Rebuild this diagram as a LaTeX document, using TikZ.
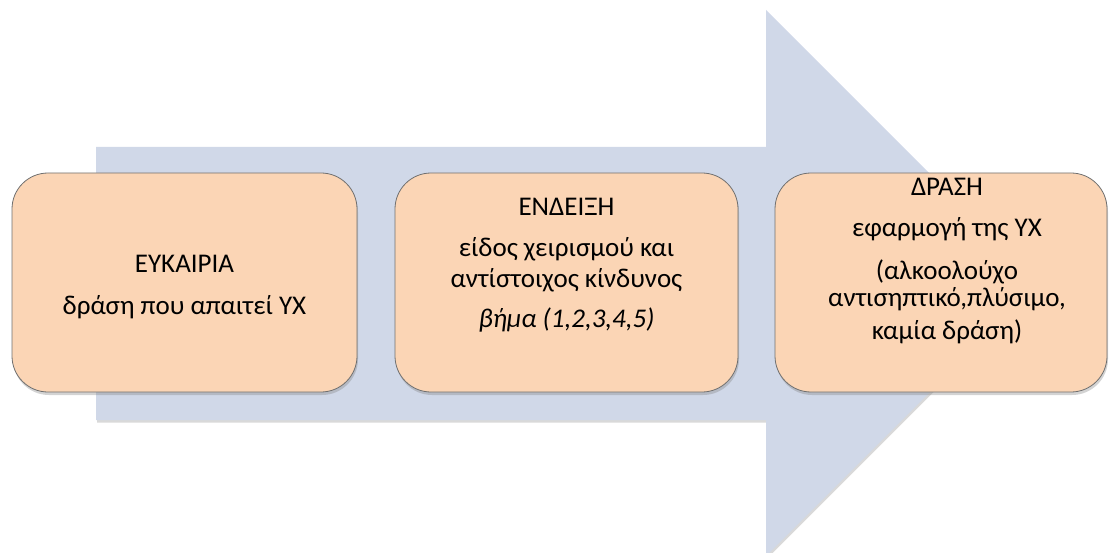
\documentclass[tikz,border=0pt]{standalone}
\usepackage{fontspec}
\setmainfont{Carlito}
\usetikzlibrary{shadows}
\definecolor{arrowfill}{HTML}{D0D8E8}
\definecolor{stagefill}{HTML}{FBD5B5}
\definecolor{stageline}{HTML}{707070}

\begin{document}
\begin{tikzpicture}[x=1pt,y=-1pt,
    stage/.style={draw=stageline,fill=stagefill,rounded corners=36pt,line width=0.8pt,
      minimum width=345pt,minimum height=219pt,inner sep=0pt,
      drop shadow={shadow xshift=1pt,shadow yshift=-3pt,opacity=0.35}},
    stagetext/.style={align=center,anchor=north,inner sep=0pt,
      font=\fontsize{27pt}{31.5pt}\selectfont}]
      \useasboundingbox (0,0) rectangle (1110,553);
      \fill[arrowfill,drop shadow={shadow xshift=1pt,shadow yshift=-2.5pt,opacity=0.3}]
        (96,147) -- (766,147) -- (766,10) -- (1039,283) -- (766,556) -- (766,420) -- (96,420) -- cycle;
      \node[stage] (b1) at (184.5,282.5) {};
      \node[stage,minimum width=343pt] (b2) at (566.5,282.5) {};
      \node[stage,minimum width=332pt] (b3) at (941,282.5) {};
      \node[stagetext] (t1) at (184.5,255) {ΕΥΚΑΙΡΙΑ\\[10.8pt]δράση που απαιτεί ΥΧ};
      \node[stagetext] (t2) at (566.5,198) {ΕΝΔΕΙΞΗ\\[9pt]είδος χειρισμού και\\αντίστοιχος κίνδυνος\\[8.5pt]\textit{βήμα (1,2,3,4,5)}};
      \node[stagetext] (t3) at (947,178) {ΔΡΑΣΗ\\[9pt]εφαρμογή της ΥΧ\\[11.8pt](αλκοολούχο\\[-4.8pt]αντισηπτικό,πλύσιμο,\\[1.5pt]καμία δράση)};
    \end{tikzpicture}
\end{document}
